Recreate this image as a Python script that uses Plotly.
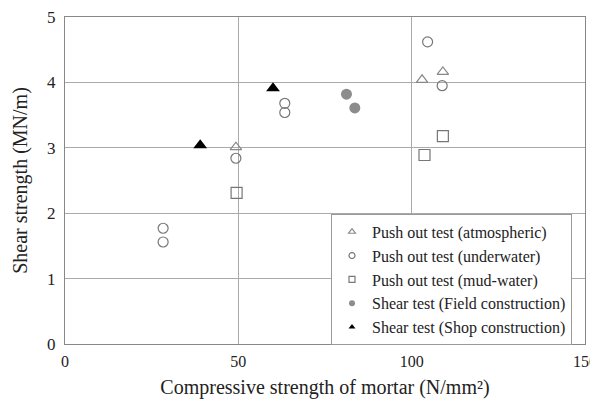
import plotly.graph_objects as go

atm_x = [49.3, 103, 109]
atm_y = [3.01, 4.04, 4.16]
uw_x = [28.3, 28.3, 49.3, 63.4, 63.4, 104.6, 108.8]
uw_y = [1.77, 1.56, 2.84, 3.68, 3.54, 4.62, 3.95]
mud_x = [49.5, 103.7, 109]
mud_y = [2.31, 2.89, 3.18]
field_x = [81.2, 83.6]
field_y = [3.82, 3.61]
shop_x = [39, 60]
shop_y = [3.04, 3.91]

names = ["Push out test (atmospheric)", "Push out test (underwater)", "Push out test (mud-water)",
         "Shear test (Field construction)", "Shear test (Shop construction)"]

font = "Liberation Serif"
styles = [
    dict(symbol="triangle-up-open", size=10, color="#888", line=dict(width=1.2)),
    dict(symbol="circle-open", size=10, color="#777", line=dict(width=1.2)),
    dict(symbol="square-open", size=11, color="#777", line=dict(width=1.2)),
    dict(symbol="circle", size=11, color="#8c8c8c"),
    dict(symbol="triangle-up", size=12, color="#000"),
]
data = [(atm_x, atm_y), (uw_x, uw_y), (mud_x, mud_y), (field_x, field_y), (shop_x, shop_y)]

fig = go.Figure()
for (xs, ys), nm, st in zip(data, names, styles):
    fig.add_trace(go.Scatter(x=xs, y=ys, mode="markers", name=nm, marker=st, showlegend=False))
# legend entries with small symbols
for nm, st in zip(names, styles):
    small = dict(st)
    small["size"] = 6
    fig.add_trace(go.Scatter(x=[None], y=[None], mode="markers", name=nm, marker=small))

fig.update_layout(
    width=590, height=395,
    margin=dict(l=57, r=13, t=9, b=59),
    plot_bgcolor="white", paper_bgcolor="white",
    font=dict(family=font, size=17, color="#222"),
    showlegend=True,
    legend=dict(x=0.975, y=0.398, xanchor="right", yanchor="top",
                bordercolor="#999", borderwidth=1, bgcolor="white",
                font=dict(family=font, size=16), itemwidth=30, tracegroupgap=0),
)
fig.update_xaxes(range=[0, 150], dtick=50, showgrid=True, gridcolor="#aaa", gridwidth=1,
                 showline=True, linecolor="#888", mirror=True, zeroline=False, automargin=False,
                 ticklabeloverflow="allow",
                 ticks="outside", ticklen=3, tickcolor="white", tickfont=dict(size=16),
                 title=dict(text="Compressive strength of mortar (N/mm²)", standoff=10))
fig.update_yaxes(range=[0, 5], dtick=1, showgrid=True, gridcolor="#aaa", gridwidth=1,
                 showline=True, linecolor="#888", mirror=True, zeroline=False, automargin=False,
                 ticklabeloverflow="allow",
                 ticks="outside", ticklen=5, tickcolor="white", tickfont=dict(size=17),
                 title=dict(text="Shear strength (MN/m)", standoff=14))
fig.write_html("out.html")
